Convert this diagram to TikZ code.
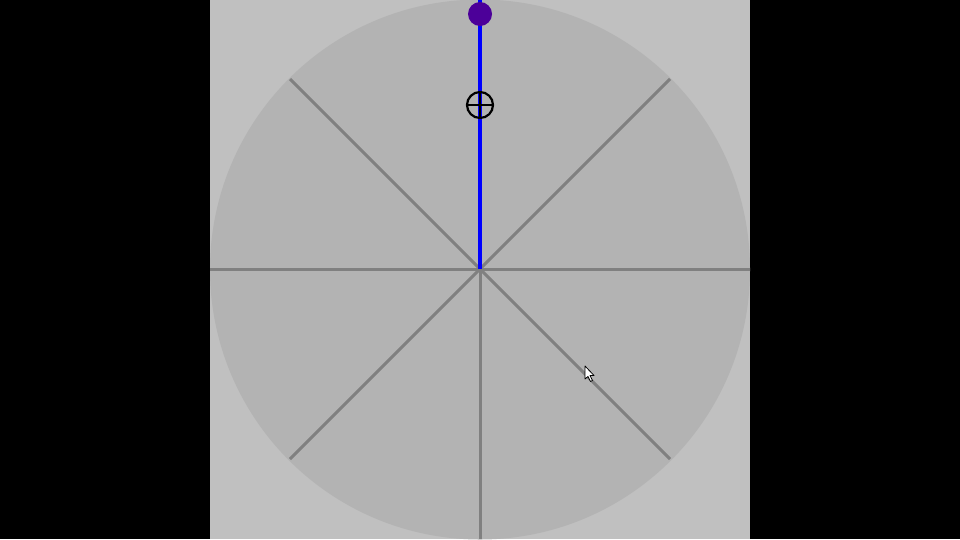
\documentclass[tikz,border=0pt]{standalone}
\definecolor{panelgray}{RGB}{192,192,192}
\definecolor{diskgray}{RGB}{179,179,179}
\definecolor{spokegray}{RGB}{128,128,128}
\definecolor{barblue}{RGB}{0,0,255}
\definecolor{knobpurple}{RGB}{76,0,153}
\begin{document}
\begin{tikzpicture}[x=1pt,y=-1pt,
  spoke/.style={draw=spokegray, line width=3pt},
  bluebar/.style={draw=barblue, line width=3.5pt},
  crossring/.style={draw=black, line width=2.2pt, circle, minimum size=26pt, inner sep=0pt},
  knob/.style={fill=knobpurple, circle, minimum size=24pt, inner sep=0pt},
  cursorshape/.style={fill=white, draw=black, line width=0.8pt, line join=round}]
\useasboundingbox (0,0) rectangle (960,539);
\fill[black] (0,0) rectangle (960,539);
\fill[panelgray] (210,0) rectangle (750,539);
\begin{scope}
\clip (210,0) rectangle (750,539);
\fill[diskgray] (480,269.5) circle (270);
\coordinate (c) at (480,269);
\coordinate (e) at (750,269);
\coordinate (w) at (210,269);
\coordinate (s) at (480,539);
\coordinate (ne) at (670,79);
\coordinate (nw) at (290,79);
\coordinate (se) at (670,459);
\coordinate (sw) at (290,459);
\coordinate (top) at (480,0);
\draw[spoke] (w) -- (e);
\draw[spoke] (c) -- (s);
\draw[spoke] (nw) -- (se);
\draw[spoke] (ne) -- (sw);
\draw[bluebar] (c) -- (top);
\node[knob] (k) at (480,14) {};
\node[crossring] (r) at (480,105) {};
\draw[black, line width=2pt] (r.west) -- (r.east);
\draw[black, line width=2pt] (r.north) -- (r.south);
\end{scope}
\draw[cursorshape] (585,366) -- (585,379) -- (588,376.5) -- (590.5,381.5) -- (592.5,380.5) -- (590,375.5) -- (594,375.5) -- cycle;
\end{tikzpicture}
\end{document}
